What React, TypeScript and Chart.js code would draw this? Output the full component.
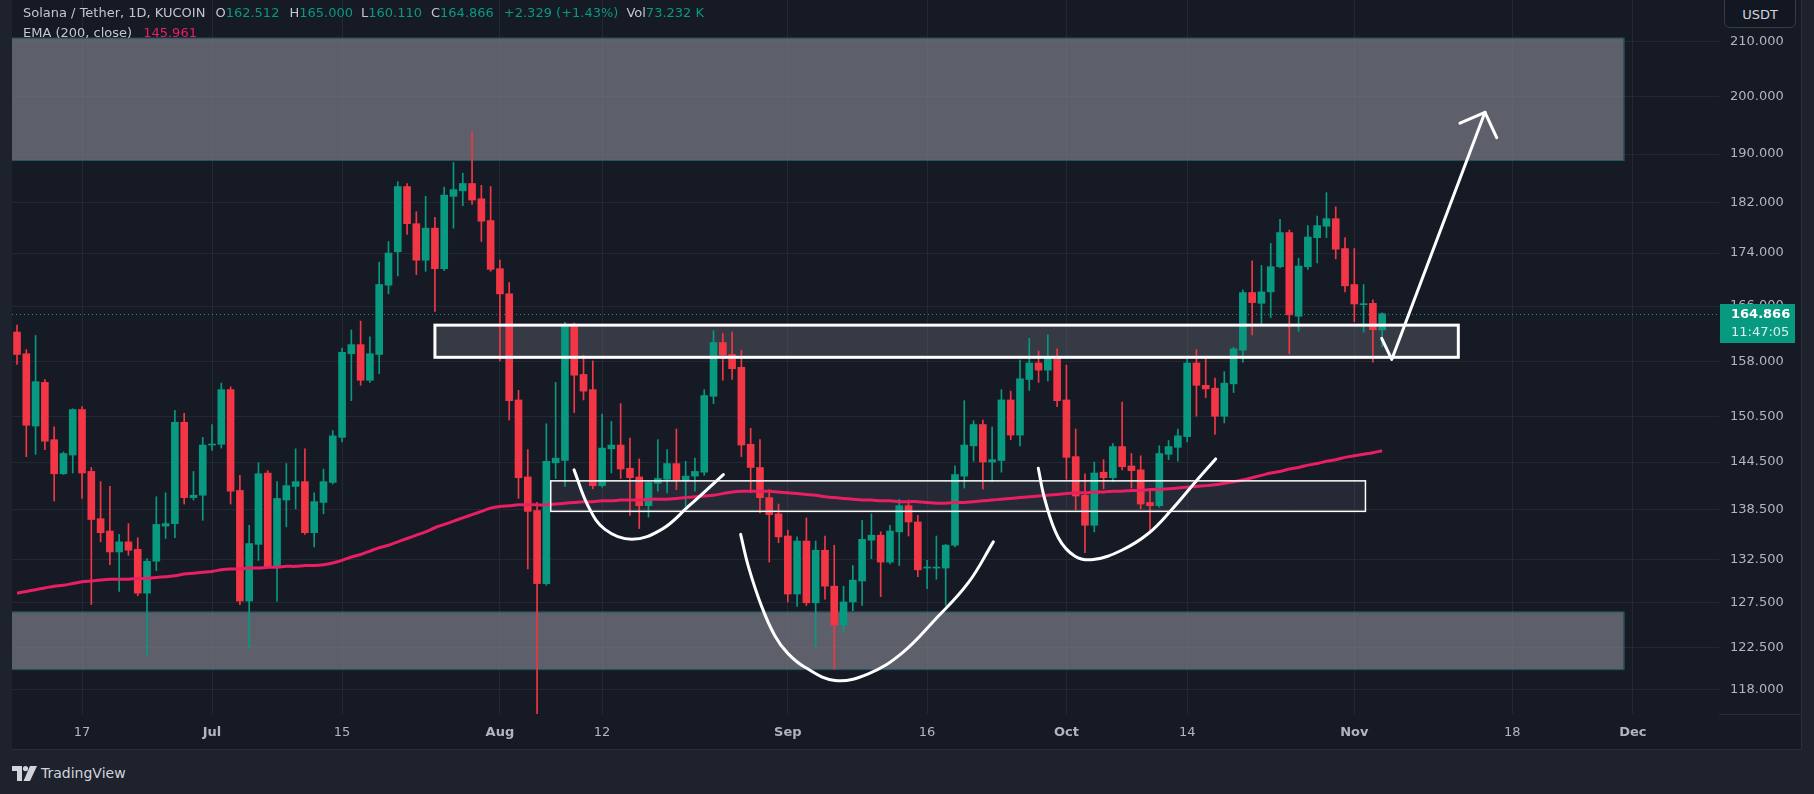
import React, { useEffect, useRef } from "react";
import { Chart, registerables } from "chart.js";

Chart.register(...registerables);

// ---------- data (daily candles, SOL/USDT, from 2024-06-10) ----------
const firstDay = "2024-06-10";

const opens = [
  162.2, 159.1, 149.2, 155.1, 147.4, 143.0, 145.4, 151.4, 143.3, 137.4,
  135.9, 133.4, 134.6, 133.7, 128.6, 132.3, 136.5, 136.8, 149.7, 140.0,
  140.3, 146.7, 146.8, 154.1, 140.9, 127.7, 134.3, 143.1, 131.6, 139.7,
  141.4, 142.0, 135.7, 139.4, 141.9, 147.7, 159.1, 160.4, 155.4, 159.0,
  169.1, 174.2, 184.6, 178.6, 172.9, 177.9, 171.6, 183.0, 183.9, 185.1,
  182.6, 179.1, 171.6, 167.8, 152.7, 142.6, 138.4, 129.7, 144.4, 144.7,
  163.0, 156.2, 154.1, 141.5, 146.2, 146.7, 143.7, 142.6, 139.0, 141.8,
  142.3, 144.3, 142.1, 142.7, 143.2, 153.2, 160.7, 159.0, 157.2, 146.8,
  143.8, 140.0, 138.0, 135.3, 128.5, 134.7, 127.5, 133.6, 129.4, 125.0,
  127.6, 130.0, 134.8, 135.4, 132.2, 135.8, 139.0, 137.0, 131.5, 131.5,
  131.5, 134.2, 142.7, 146.6, 149.4, 144.5, 144.7, 152.7, 148.0, 155.5,
  157.8, 156.8, 158.6, 152.7, 145.2, 140.3, 136.6, 143.2, 142.5, 146.5,
  144.0, 143.5, 139.4, 139.0, 145.5, 146.4, 147.8, 157.8, 154.7, 154.3,
  150.5, 154.9, 159.6, 168.0, 166.4, 168.1, 171.9, 177.2, 164.5, 171.9,
  176.4, 178.2, 179.4, 174.7, 169.2, 166.2, 166.4, 162.512,
];
const highs = [
  163.2, 159.7, 161.7, 155.5, 149.1, 145.8, 151.5, 151.8, 143.8, 142.0,
  141.4, 135.5, 136.8, 135.1, 132.6, 140.1, 140.6, 151.3, 150.9, 143.3,
  147.7, 149.4, 155.0, 154.5, 142.8, 136.6, 144.4, 143.4, 142.0, 144.3,
  146.2, 146.2, 140.6, 143.6, 148.6, 159.9, 162.5, 163.8, 161.5, 172.6,
  175.8, 185.4, 185.1, 180.5, 183.0, 179.6, 184.5, 188.6, 186.8, 193.9,
  184.8, 184.6, 172.9, 169.5, 154.0, 146.1, 139.4, 149.5, 155.1, 163.6,
  163.5, 158.9, 158.1, 150.8, 149.8, 152.2, 147.6, 144.9, 142.0, 147.4,
  146.1, 148.8, 144.6, 145.0, 154.1, 162.4, 162.0, 162.2, 159.6, 148.9,
  147.4, 141.0, 139.2, 136.0, 135.2, 137.5, 134.7, 135.3, 134.2, 129.4,
  131.8, 137.2, 138.0, 135.8, 136.6, 139.8, 139.7, 137.8, 132.4, 135.3,
  134.3, 144.0, 152.6, 149.9, 150.0, 149.1, 154.1, 153.9, 158.2, 161.3,
  159.5, 161.8, 159.8, 157.5, 148.8, 143.0, 144.5, 144.8, 146.9, 152.4,
  145.6, 145.3, 140.9, 146.6, 147.3, 148.8, 158.3, 159.7, 158.4, 155.7,
  156.6, 160.0, 168.4, 172.8, 172.1, 175.5, 179.3, 177.6, 173.2, 178.3,
  179.8, 183.6, 181.3, 176.4, 174.7, 169.2, 166.9, 165.0,
];
const lows = [
  157.6, 145.2, 145.5, 146.1, 139.6, 142.9, 143.1, 139.9, 127.3, 134.6,
  131.9, 128.8, 133.0, 128.3, 121.6, 131.2, 135.0, 135.1, 139.2, 139.7,
  137.2, 146.0, 146.3, 139.2, 127.3, 122.5, 132.4, 131.5, 127.7, 136.4,
  138.6, 135.5, 134.0, 138.0, 141.7, 147.1, 152.6, 154.7, 155.1, 156.3,
  167.8, 170.5, 176.9, 170.7, 171.2, 165.2, 171.3, 177.9, 181.5, 181.7,
  175.8, 171.2, 158.1, 150.0, 139.9, 131.4, 110.0, 129.5, 142.4, 141.4,
  151.0, 152.7, 141.1, 141.3, 143.1, 142.4, 137.8, 136.2, 137.6, 140.8,
  140.6, 141.0, 138.9, 140.8, 142.8, 152.2, 155.4, 155.5, 145.2, 140.6,
  138.1, 132.2, 134.5, 127.6, 127.1, 127.2, 122.6, 127.9, 120.2, 124.2,
  126.6, 127.2, 132.6, 128.2, 132.0, 131.8, 135.3, 130.5, 129.1, 130.2,
  127.2, 134.0, 141.2, 144.6, 141.1, 142.0, 143.2, 147.4, 146.6, 154.0,
  155.1, 155.3, 151.8, 142.3, 138.5, 133.3, 135.8, 141.1, 142.0, 143.5,
  141.2, 138.6, 135.7, 138.8, 144.8, 144.6, 147.1, 150.5, 153.0, 148.1,
  149.6, 153.7, 157.9, 161.8, 163.2, 164.3, 171.7, 159.1, 162.3, 171.5,
  172.5, 176.4, 173.1, 168.1, 163.7, 162.2, 157.9, 160.11,
];
const closes = [
  159.0, 149.3, 155.2, 147.2, 143.0, 145.6, 151.4, 143.1, 137.3, 135.7,
  133.4, 134.6, 133.6, 128.6, 132.3, 136.7, 136.8, 149.7, 140.0, 140.3,
  146.7, 146.8, 154.1, 140.8, 127.7, 134.4, 143.0, 131.6, 139.9, 141.5,
  142.0, 135.7, 139.5, 142.0, 147.9, 159.3, 160.4, 155.4, 159.1, 169.2,
  174.0, 184.6, 178.6, 172.9, 177.9, 171.6, 183.2, 184.1, 185.1, 182.4,
  179.0, 171.5, 167.8, 152.6, 142.5, 138.3, 129.7, 144.6, 145.0, 163.2,
  156.1, 153.9, 141.5, 146.3, 146.7, 143.6, 142.5, 139.0, 141.9, 142.4,
  144.3, 142.2, 142.7, 143.3, 153.3, 160.7, 158.9, 157.0, 146.7, 143.8,
  140.0, 137.9, 135.2, 128.5, 134.7, 127.5, 133.6, 129.4, 125.0, 127.6,
  130.1, 134.9, 135.4, 132.2, 135.9, 139.0, 137.0, 131.3, 131.6, 131.6,
  134.2, 142.9, 146.7, 149.4, 144.5, 144.8, 152.7, 148.0, 155.6, 157.8,
  156.8, 158.6, 152.6, 145.1, 140.2, 136.6, 143.1, 142.5, 146.5, 143.9,
  143.4, 139.2, 139.0, 145.6, 146.5, 147.9, 157.8, 154.7, 154.2, 150.5,
  155.0, 159.8, 168.0, 166.5, 168.1, 171.9, 177.2, 164.7, 172.0, 176.5,
  178.3, 179.4, 174.6, 169.0, 166.3, 166.3, 162.537, 164.866,
];
const ema200 = [
  128.6, 128.8, 129.0, 129.2, 129.4, 129.5, 129.7, 129.9, 130.0, 130.1,
  130.2, 130.2, 130.2, 130.3, 130.3, 130.4, 130.5, 130.6, 130.8, 130.9,
  131.0, 131.1, 131.3, 131.4, 131.4, 131.5, 131.5, 131.6, 131.6, 131.7,
  131.7, 131.8, 131.8, 131.9, 132.1, 132.4, 132.8, 133.1, 133.5, 133.9,
  134.2, 134.6, 135.0, 135.4, 135.8, 136.3, 136.7, 137.1, 137.5, 137.9,
  138.3, 138.7, 138.9, 139.0, 139.1, 139.1, 139.1, 139.1, 139.2, 139.3,
  139.4, 139.5, 139.5, 139.6, 139.6, 139.7, 139.7, 139.7, 139.8, 139.8,
  139.8, 139.9, 140.0, 140.1, 140.2, 140.3, 140.5, 140.7, 140.8, 140.8,
  140.8, 140.8, 140.7, 140.6, 140.5, 140.4, 140.3, 140.1, 140.0, 139.9,
  139.8, 139.7, 139.7, 139.6, 139.6, 139.5, 139.5, 139.5, 139.4, 139.3,
  139.3, 139.4, 139.4, 139.5, 139.6, 139.7, 139.8, 139.9, 140.0, 140.1,
  140.2, 140.3, 140.4, 140.5, 140.6, 140.6, 140.7, 140.7, 140.8, 140.8,
  140.9, 140.9, 141.0, 141.0, 141.1, 141.2, 141.3, 141.4, 141.5, 141.6,
  141.8, 142.0, 142.2, 142.5, 142.8, 143.1, 143.3, 143.6, 143.8, 144.1,
  144.3, 144.6, 144.8, 145.1, 145.3, 145.5, 145.7, 145.961,
];

const tickDates = [
  "2024-06-17", "2024-07-01", "2024-07-15", "2024-08-01", "2024-08-12", "2024-09-01",
  "2024-09-16", "2024-10-01", "2024-10-14", "2024-11-01", "2024-11-18", "2024-12-01",
];
const tickLabels = ["17", "Jul", "15", "Aug", "12", "Sep", "16", "Oct", "14", "Nov", "18", "Dec"];
const monthLabels = ["Jul", "Aug", "Sep", "Oct", "Nov", "Dec"];
const priceTicks = [118, 122.5, 127.5, 132.5, 138.5, 144.5, 150.5, 158, 166, 174, 182, 190, 200, 210];
const lastPrice = 164.866;

// drawn zones / annotations, in (day index, price) units
const zoneDays = [-1, 173.0];
const supplyZone = [189.0, 210.7];
const demandZone = [120.2, 126.5];
const resistanceDays = [45.0, 155.2];
const resistancePrices = [158.6, 163.2];
const supportDays = [57.47, 145.2];
const supportPrices = [138.3, 142.1];
const cupSmall = [[59.98, 143.5], [61.52, 138.9], [63.31, 136.1], [66.19, 134.9], [69.42, 136.1], [72.29, 138.9], [76.06, 142.9]];
const cupLarge = [[77.92, 135.5], [78.75, 131.7], [80.18, 127.1], [81.62, 123.8], [83.0, 121.9], [84.85, 120.4], [88.08, 119.0], [91.67, 119.7], [95.26, 121.9], [98.85, 125.6], [102.44, 129.8], [105.13, 134.6]];
const cupRight = [[109.97, 143.7], [110.69, 139.7], [112.13, 135.1], [113.92, 132.9], [115.9, 132.5], [118.95, 133.6], [121.82, 135.6], [124.33, 138.5], [126.84, 141.9], [129.07, 144.9]];
const arrowPath = [[146.95, 161.3], [148.03, 158.3], [158.07, 197.2]];
const arrowHead = [[155.38, 195.3], [158.07, 197.2], [159.33, 192.8]];

// ---------- styles ----------
const GREEN = "#089981";
const RED = "#f23645";
const PINK = "#e91e63";
const GRID = "#242833";
const TEXT = "#b2b5be";
const FONT = "'DejaVu Sans', sans-serif";

const dayOf = (d: string) =>
  Math.round((Date.parse(d + "T00:00:00Z") - Date.parse(firstDay + "T00:00:00Z")) / 86400000);
const tickDays = tickDates.map(dayOf);

export default function App() {
  const canvasRef = useRef<HTMLCanvasElement | null>(null);

  useEffect(() => {
    const canvas = canvasRef.current;
    if (!canvas) return;
    const days = opens.map((_, i) => i);
    const colors = days.map((i) => (closes[i] >= opens[i] ? GREEN : RED));
    const toXY = (pts: number[][]) => pts.map(([x, y]) => ({ x, y }));
    const whiteLine = (pts: number[][], tension: number) => ({
      type: "line" as const,
      data: toXY(pts),
      borderColor: "#ffffff",
      borderWidth: 3,
      pointRadius: 0,
      tension,
      borderCapStyle: "round" as const,
      borderJoinStyle: "round" as const,
      order: 0,
    });

    const overlay = {
      id: "overlay",
      beforeDatasetsDraw(chart: any) {
        const { ctx, chartArea: a, scales } = chart;
        const x = scales.x, y = scales.y;
        ctx.save();
        ctx.beginPath();
        ctx.rect(a.left, a.top, a.right - a.left, a.bottom - a.top);
        ctx.clip();
        for (const z of [supplyZone, demandZone]) {
          const x0 = x.getPixelForValue(zoneDays[0]);
          const x1 = x.getPixelForValue(zoneDays[1]);
          const y0 = y.getPixelForValue(z[1]);
          const y1 = y.getPixelForValue(z[0]);
          ctx.fillStyle = "rgba(120,123,134,0.72)";
          ctx.fillRect(x0, y0, x1 - x0, y1 - y0);
          ctx.strokeStyle = "#235c66";
          ctx.lineWidth = 1;
          ctx.strokeRect(x0 + 0.5, y0 + 0.5, x1 - x0, y1 - y0);
        }
        const boxFill = (dd: number[], pp: number[], c: string) => {
          const x0 = x.getPixelForValue(dd[0]);
          const x1 = x.getPixelForValue(dd[1]);
          const y0 = y.getPixelForValue(pp[1]);
          const y1 = y.getPixelForValue(pp[0]);
          ctx.fillStyle = c;
          ctx.fillRect(x0, y0, x1 - x0, y1 - y0);
        };
        boxFill(resistanceDays, resistancePrices, "rgba(120,123,134,0.33)");
        boxFill(supportDays, supportPrices, "rgba(120,123,134,0.16)");
        // last price dotted line
        const py = Math.round(y.getPixelForValue(lastPrice)) + 0.5;
        ctx.strokeStyle = GREEN;
        ctx.lineWidth = 1;
        ctx.setLineDash([1, 3]);
        ctx.beginPath();
        ctx.moveTo(a.left, py);
        ctx.lineTo(a.right, py);
        ctx.stroke();
        ctx.restore();
      },
      afterDatasetsDraw(chart: any) {
        const { ctx, scales } = chart;
        const x = scales.x, y = scales.y;
        ctx.save();
        const box = (dd: number[], pp: number[], w: number) => {
          const x0 = x.getPixelForValue(dd[0]);
          const x1 = x.getPixelForValue(dd[1]);
          const y0 = y.getPixelForValue(pp[1]);
          const y1 = y.getPixelForValue(pp[0]);
          ctx.strokeStyle = "#ffffff";
          ctx.lineWidth = w;
          ctx.strokeRect(x0, y0, x1 - x0, y1 - y0);
        };
        box(resistanceDays, resistancePrices, 3);
        box(supportDays, supportPrices, 1.5);
        ctx.restore();
      },
      afterDraw(chart: any) {
        const { ctx, chartArea: a, scales } = chart;
        const y = scales.y;
        const py = y.getPixelForValue(lastPrice);
        ctx.save();
        ctx.fillStyle = GREEN;
        ctx.fillRect(a.right + 1, Math.round(py) - 10, 75, 39);
        ctx.textBaseline = "middle";
        ctx.textAlign = "left";
        ctx.fillStyle = "#ffffff";
        ctx.font = `bold 13px ${FONT}`;
        ctx.fillText(lastPrice.toFixed(3), a.right + 12, py + 0.5);
        ctx.fillStyle = "rgba(255,255,255,0.85)";
        ctx.font = `13px ${FONT}`;
        ctx.fillText("11:47:05", a.right + 12, py + 19);
        // corner line between price axis and time axis
        ctx.strokeStyle = "#2a2e39";
        ctx.lineWidth = 1;
        ctx.beginPath();
        ctx.moveTo(a.right, a.bottom + 0.5);
        ctx.lineTo(chart.width, a.bottom + 0.5);
        ctx.stroke();
        ctx.restore();
      },
    };

    const chart = new Chart(canvas, {
      type: "bar",
      data: {
        datasets: [
          whiteLine(cupSmall, 0.4),
          whiteLine(cupLarge, 0.4),
          whiteLine(cupRight, 0.4),
          whiteLine(arrowPath, 0),
          whiteLine(arrowHead, 0),
          {
            type: "line",
            data: ema200.map((v, i) => ({ x: i, y: v })),
            borderColor: PINK,
            borderWidth: 3,
            pointRadius: 0,
            tension: 0.3,
            order: 1,
          } as any,
          {
            type: "bar",
            data: days.map((i) => ({ x: i, y: [opens[i], closes[i]] })),
            backgroundColor: colors,
            barThickness: 7,
            minBarLength: 1,
            grouped: false,
            order: 2,
          } as any,
          {
            type: "bar",
            data: days.map((i) => ({ x: i, y: [lows[i], highs[i]] })),
            backgroundColor: colors,
            barThickness: 1,
            grouped: false,
            order: 3,
          } as any,
        ],
      },
      options: {
        responsive: false,
        animation: false,
        devicePixelRatio: 1,
        events: [],
        layout: { padding: 0 },
        plugins: { legend: { display: false }, tooltip: { enabled: false } },
        scales: {
          x: {
            type: "linear",
            min: -0.54,
            max: 183.27,
            offset: false,
            bounds: "data",
            afterBuildTicks: (s: any) => {
              s.ticks = tickDays.map((v) => ({ value: v }));
            },
            afterFit: (s: any) => {
              s.height = 35;
              s.paddingLeft = 0;
              s.paddingRight = 0;
            },
            ticks: {
              autoSkip: false,
              maxRotation: 0,
              padding: 11,
              color: TEXT,
              callback: (v: any) => tickLabels[tickDays.indexOf(Number(v))] ?? "",
              font: (ctx: any) => {
                const lbl = ctx.tick ? tickLabels[tickDays.indexOf(ctx.tick.value)] : "";
                return { family: FONT, size: 13, weight: monthLabels.includes(lbl) ? "bold" : "normal" };
              },
            },
            grid: { color: GRID, drawTicks: false, offset: false },
            border: { display: false },
          } as any,
          y: {
            type: "logarithmic",
            position: "right",
            min: 115.5,
            max: 217.9,
            bounds: "data",
            afterBuildTicks: (s: any) => {
              s.ticks = priceTicks.map((v) => ({ value: v }));
            },
            afterFit: (s: any) => {
              s.width = 82;
              s.paddingTop = 0;
              s.paddingBottom = 0;
            },
            ticks: {
              autoSkip: false,
              padding: 11,
              color: TEXT,
              font: { family: FONT, size: 13 },
              callback: (v: any) => Number(v).toFixed(3),
            },
            grid: { color: GRID, drawTicks: false },
            border: { display: false },
          } as any,
        },
      },
      plugins: [overlay],
    } as any);
    return () => chart.destroy();
  }, []);

  const label = { color: "#c3c6ce" };
  const val = { color: GREEN };
  return (
    <div
      style={{
        position: "absolute",
        left: 0,
        top: 0,
        width: 1814,
        height: 794,
        background: "#1e222d",
        overflow: "hidden",
        fontFamily: FONT,
      }}
    >
      <div
        style={{
          position: "absolute",
          left: 12,
          top: 0,
          width: 1789,
          height: 749,
          background: "#161a25",
          borderRight: "1px solid #2a2e39",
          borderBottom: "1px solid #2a2e39",
        }}
      >
        <canvas ref={canvasRef} width={1789} height={749} style={{ display: "block", width: 1789, height: 749 }} />
      </div>

      {/* legend */}
      <div style={{ position: "absolute", left: 23, top: 4, fontSize: 13, lineHeight: "17px", whiteSpace: "nowrap", display: "flex" }}>
        <span style={label}>Solana / Tether, 1D, KUCOIN</span>
        <span style={{ ...label, marginLeft: 10 }}>O</span>
        <span style={val}>162.512</span>
        <span style={{ ...label, marginLeft: 10 }}>H</span>
        <span style={val}>165.000</span>
        <span style={{ ...label, marginLeft: 8 }}>L</span>
        <span style={val}>160.110</span>
        <span style={{ ...label, marginLeft: 9 }}>C</span>
        <span style={val}>164.866</span>
        <span style={{ ...val, marginLeft: 10 }}>+2.329 (+1.43%)</span>
        <span style={{ ...label, marginLeft: 8 }}>Vol</span>
        <span style={val}>73.232 K</span>
      </div>
      <div style={{ position: "absolute", left: 23, top: 24, fontSize: 13, lineHeight: "17px", whiteSpace: "nowrap", display: "flex" }}>
        <span style={label}>EMA (200, close)</span>
        <span style={{ color: PINK, marginLeft: 11 }}>145.961</span>
      </div>

      {/* currency button */}
      <div
        style={{
          position: "absolute",
          left: 1724,
          top: -6,
          width: 72,
          height: 34,
          boxSizing: "border-box",
          border: "1px solid #363a45",
          borderRadius: 6,
          background: "#131722",
          color: "#d1d4dc",
          fontSize: 13,
          display: "flex",
          alignItems: "center",
          justifyContent: "center",
          paddingTop: 6,
        }}
      >
        USDT
      </div>

      {/* footer logo */}
      <div style={{ position: "absolute", left: 12, top: 764, display: "flex", alignItems: "center", color: "#d1d4dc" }}>
        <svg width="25" height="15" viewBox="0 0 25 15">
          <path d="M0 0 H10 V15 H5 V5 H0 Z" fill="#d1d4dc" />
          <circle cx="13.5" cy="2.6" r="2.6" fill="#d1d4dc" />
          <path d="M18 0 H25 L18 15 H11.5 Z" fill="#d1d4dc" />
        </svg>
        <span style={{ fontSize: 14, marginLeft: 4, lineHeight: "18px" }}>TradingView</span>
      </div>
    </div>
  );
}
